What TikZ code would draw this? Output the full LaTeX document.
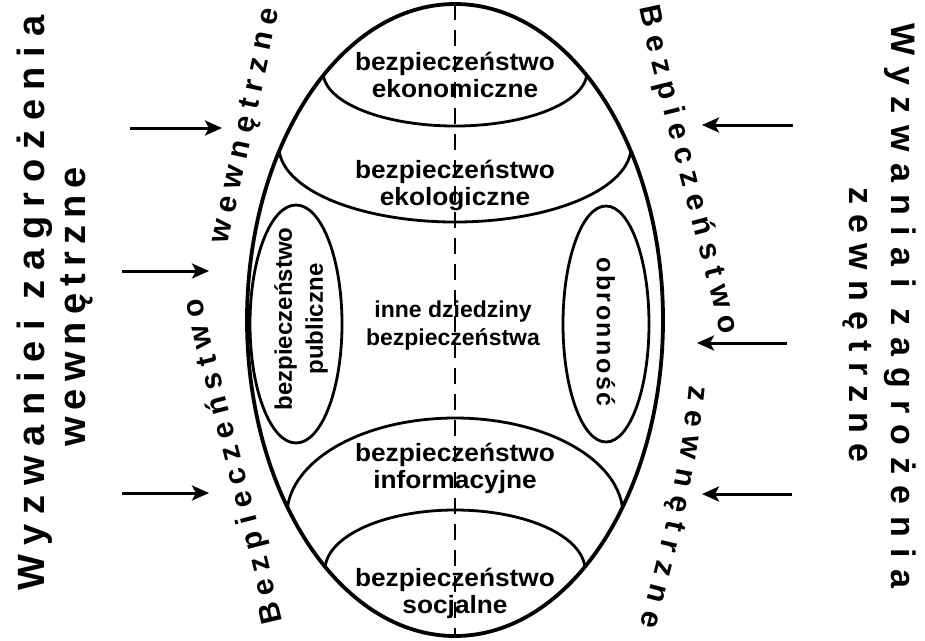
\documentclass[tikz,border=0pt]{standalone}
\usepackage{fontspec}
\setmainfont{Liberation Sans}
\usetikzlibrary{decorations.text,arrows.meta}
\newcommand\curvefont{\bfseries\fontsize{30}{34}\selectfont}
\begin{document}
\begin{tikzpicture}[x=1pt,y=-1pt,
  eggline/.style={line width=3.8pt},
  band/.style={line width=2.8pt},
  dashline/.style={line width=2.6pt, dash pattern=on 16pt off 10pt},
  lbl/.style={font=\bfseries\fontsize{25}{27}\selectfont, align=center, inner sep=0pt},
  lblsmall/.style={font=\bfseries\fontsize{23}{28}\selectfont, align=center, inner sep=0pt},
  bigL/.style={font=\bfseries\fontsize{38}{42}\selectfont\addfontfeatures{LetterSpace=#1}, inner sep=0pt},
  bigR/.style={font=\bfseries\fontsize{34}{38}\selectfont\addfontfeatures{LetterSpace=#1}, inner sep=0pt},
  arr/.style={line width=3pt, -{Stealth[length=17pt,width=15pt,inset=4pt]}},
  curvetext/.style={decorate, decoration={text along path, text={|\curvefont|#1}, text align={fit to path}, raise=-9pt}}
]
\useasboundingbox (0,0) rectangle (925,640);

% inner bands, clipped to the egg
\begin{scope}
  \clip (455,320) ellipse[x radius=208, y radius=316];
  \draw[band] ([shift={(455,72)}]-20:132 and 54) arc[start angle=-20, end angle=200, x radius=132, y radius=54];
  \draw[band] ([shift={(455,147)}]-20:176 and 75) arc[start angle=-20, end angle=200, x radius=176, y radius=75];
  \draw[band] ([shift={(455,515)}]170:168 and 97) arc[start angle=170, end angle=370, x radius=168, y radius=97];
  \draw[band] ([shift={(455,570)}]170:130 and 60) arc[start angle=170, end angle=370, x radius=130, y radius=60];
  \draw[band] (296,324) ellipse[x radius=46, y radius=119];
  \draw[band] (606,324) ellipse[x radius=43, y radius=118];
\end{scope}

% egg
\draw[eggline] (455,320) ellipse[x radius=208, y radius=316];

% labels inside
\node[lbl, xscale=1.05] (ekon) at (455,75) {bezpieczeństwo\\ekonomiczne};
\node[lbl, xscale=1.05] (ekol) at (455,185) {bezpieczeństwo\\ekologiczne};
\node[lblsmall] (inne) at (453,326) {inne dziedziny\\bezpieczeństwa};
\node[lbl, xscale=1.05] (info) at (455,468) {bezpieczeństwo\\informacyjne};
\node[lbl, xscale=1.05] (socj) at (455,593) {bezpieczeństwo\\socjalne};
\node[font=\bfseries\fontsize{24}{31}\selectfont, align=center, inner sep=0pt, rotate=90] (publ) at (301,319) {bezpieczeństwo\\publiczne};
\node[font=\bfseries\fontsize{25}{30}\selectfont\addfontfeatures{LetterSpace=10}, inner sep=0pt, rotate=-90] (obro) at (606,332) {obronność};

% dashed axis
\coordinate (axtop) at (455,4);
\coordinate (axbot) at (455,634);
\draw[dashline] (axtop) -- (axbot);

% big side labels
\node[bigL=25.5, rotate=90] (lw1) at (35,303) {Wyzwanie\hspace{-9pt} i zagrożenia};
\node[bigL=18.7, rotate=90] (lw2) at (77,307) {wewnętrzne};
\node[bigR=34, rotate=-90] (rw1) at (900,306) {Wyzwania\hspace{-9pt} i zagrożenia};
\node[bigR=30, rotate=-90] (rw2) at (857,325) {zewnętrzne};

% arrows
\coordinate (la1) at (130,128); \coordinate (lb1) at (222,128);
\coordinate (la2) at (122,271); \coordinate (lb2) at (209,271);
\coordinate (la3) at (122,493); \coordinate (lb3) at (209,493);
\coordinate (ra1) at (793,125); \coordinate (rb1) at (702,125);
\coordinate (ra2) at (787,343); \coordinate (rb2) at (697,343);
\coordinate (ra3) at (792,494); \coordinate (rb3) at (702,494);
\draw[arr] (la1) -- (lb1);
\draw[arr] (la2) -- (lb2);
\draw[arr] (la3) -- (lb3);
\draw[arr] (ra1) -- (rb1);
\draw[arr] (ra2) -- (rb2);
\draw[arr] (ra3) -- (rb3);

% curved texts
\coordinate (lbs) at (274,624); \coordinate (lbe) at (193,300);
\coordinate (lws) at (219,243); \coordinate (lwe) at (270,8);
\coordinate (rbs) at (648,6);   \coordinate (rbe) at (730,333);
\coordinate (rzs) at (698,386); \coordinate (rze) at (649,628);
\path[curvetext={Bezpieczeństwo}] (lbs) .. controls (250,520) and (215,400) .. (lbe);
\path[curvetext={wewnętrzne}] (lws) .. controls (236,165) and (254,85) .. (lwe);
\path[curvetext={Bezpieczeństwo}] (rbs) .. controls (670,110) and (705,230) .. (rbe);
\path[curvetext={zewnętrzne}] (rzs) .. controls (690,470) and (672,545) .. (rze);
\end{tikzpicture}
\end{document}
